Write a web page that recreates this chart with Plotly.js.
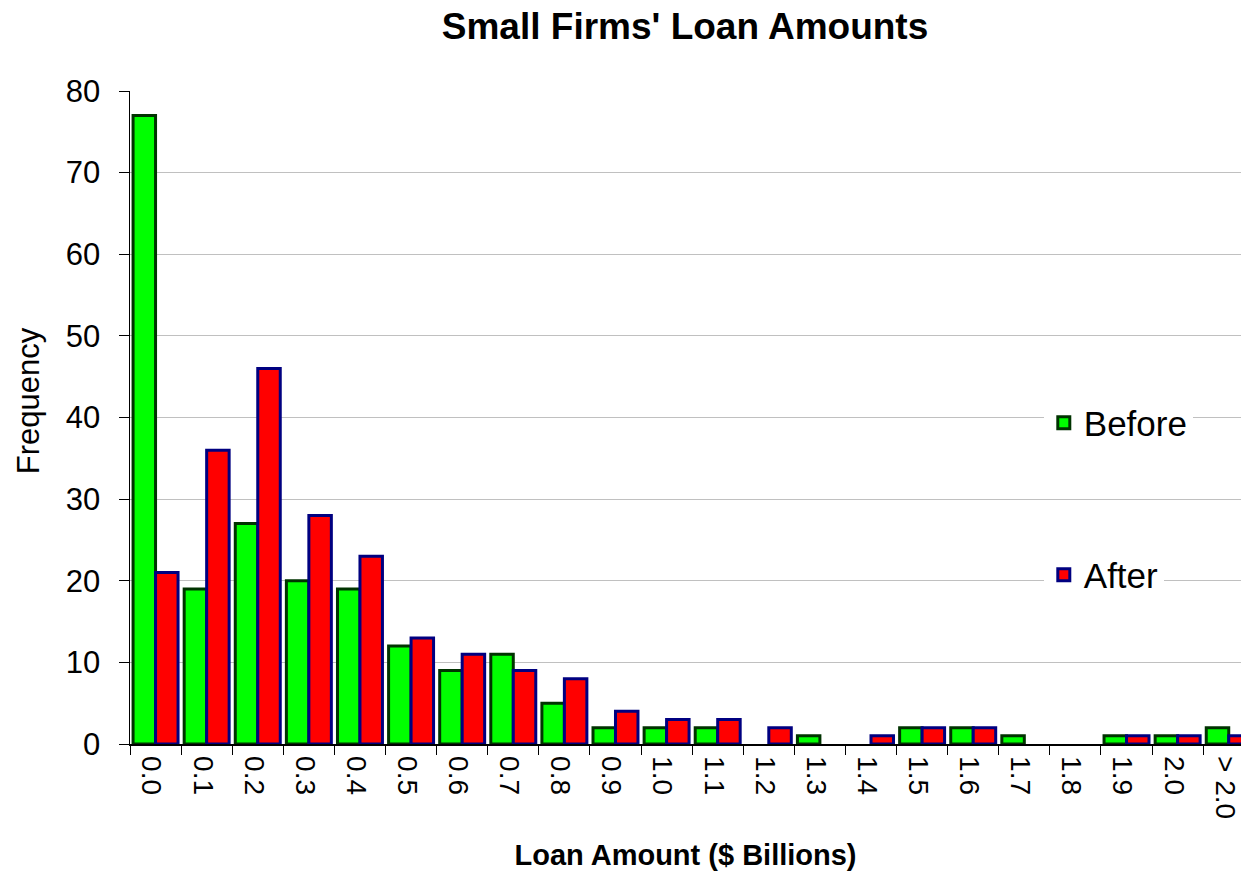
<!DOCTYPE html>
<html>
<head>
<meta charset="utf-8">
<script src="https://cdn.plot.ly/plotly-3.0.1.min.js"></script>
<style>html,body{margin:0;padding:0;background:#fff;}#chart{width:1241px;height:871px;}</style>
</head>
<body>
<div id="chart"></div>
<script>
const categories = ["0.0","0.1","0.2","0.3","0.4","0.5","0.6","0.7","0.8","0.9","1.0","1.1","1.2","1.3","1.4","1.5","1.6","1.7","1.8","1.9","2.0","> 2.0"];
const beforeValues = [77,19,27,20,19,12,9,11,5,2,2,2,0,1,0,2,2,1,0,1,1,2];
const afterValues  = [21,36,46,28,23,13,11,9,8,4,3,3,2,0,1,2,2,0,0,1,1,1];
const yTicks = [0,10,20,30,40,50,60,70,80];

// zero-height bars are not drawn in the original
const hideZero = arr => arr.map(v => v === 0 ? null : v);

const font = "Liberation Sans, Arial, sans-serif";
const traces = [
  {type:"bar", name:"Before", x:categories, y:hideZero(beforeValues),
   marker:{color:"#00FF00", line:{color:"#003300", width:3}}, legend:"legend"},
  {type:"bar", name:"After", x:categories, y:hideZero(afterValues),
   marker:{color:"#FF0000", line:{color:"#000080", width:3}}, legend:"legend2"}
];
const legendCommon = {bgcolor:"#ffffff", borderwidth:0, font:{family:font, size:35, color:"#000"}, xanchor:"left", yanchor:"middle", itemwidth:30};
const layout = {
  width:1241, height:871,
  margin:{l:130, r:0, t:91, b:127},
  paper_bgcolor:"#fff", plot_bgcolor:"#fff",
  font:{family:font, color:"#000"},
  title:{text:"<b>Small Firms' Loan Amounts</b>", font:{family:font, size:37, color:"#000"}, x:0.552, xanchor:"center", y:0.97, yanchor:"middle"},
  barmode:"group", bargap:0.12, bargroupgap:0,
  xaxis:{type:"category", range:[-0.5, 21.24], tickangle:90, tickson:"boundaries", ticks:"outside", ticklen:9, tickcolor:"#000",
         showline:true, linecolor:"#000", linewidth:1.5, showgrid:false, ticklabelshift:-4, ticklabelstandoff:5,
         tickfont:{family:font, size:28, color:"#000"},
         title:{text:"<b>Loan Amount ($ Billions)</b>", font:{family:font, size:29, color:"#000"}, standoff:32}},
  yaxis:{range:[0,80], tickvals:yTicks, ticks:"outside", ticklen:10, tickcolor:"#000", ticklabelstandoff:12,
         showline:true, linecolor:"#000", linewidth:1.5, showgrid:true, gridcolor:"#c0c0c0", gridwidth:1, zeroline:false,
         tickfont:{family:font, size:31, color:"#000"}},
  annotations:[{text:"Frequency", xref:"paper", yref:"paper", x:-0.0918, y:0.525, xanchor:"center", yanchor:"middle",
                textangle:-90, showarrow:false, font:{family:font, size:31, color:"#000"}}],
  legend:Object.assign({x:0.8225, y:0.4916}, legendCommon),
  legend2:Object.assign({x:0.8225, y:0.2588}, legendCommon),
  showlegend:true
};
Plotly.newPlot("chart", traces, layout, {displayModeBar:false, staticPlot:true});
</script>
</body>
</html>
